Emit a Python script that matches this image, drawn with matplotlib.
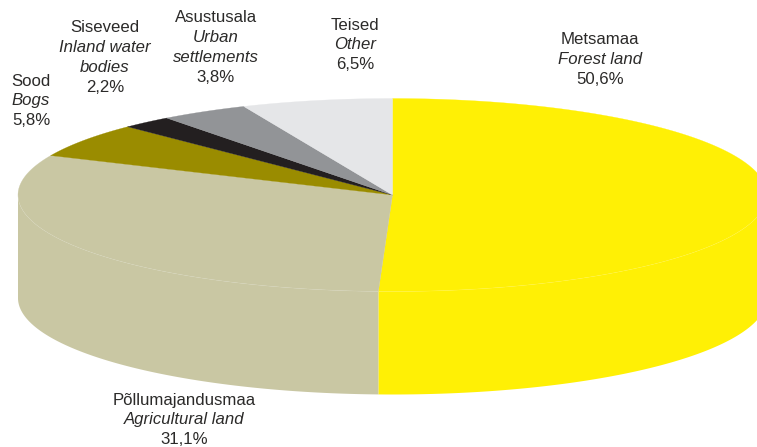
#!/usr/bin/env python3
"""Land use shares drawn as a tilted 3D pie."""

import matplotlib

matplotlib.use("Agg")
import matplotlib.pyplot as plt
import numpy as np

# data, clockwise from 12 o'clock
names = ["Metsamaa", "Põllumajandusmaa", "Sood", "Siseveed", "Asustusala", "Teised"]
names_en = [
    ["Forest land"],
    ["Agricultural land"],
    ["Bogs"],
    ["Inland water", "bodies"],
    ["Urban", "settlements"],
    ["Other"],
]
shares = [50.6, 31.1, 5.8, 2.2, 3.8, 6.5]
colors = ["#fff005", "#c9c7a3", "#9a8c00", "#231f20", "#929497", "#e5e6e8"]

# label centre x and first line centre y, in pixels
label_x = [600, 184, 31, 105, 216, 355]
label_y = [40, 400, 81, 28, 18, 25]
LINE_STEP = 19.9
TEXT_COLOR = "#2b2a29"

CX, CY = 392.5, 195.0
RX, RY = 374.5, 96.5
DEPTH = 103.0


def rim(theta):
    """Rim points of the top ellipse for clockwise angles from 12 o'clock."""
    return CX + RX * np.sin(theta), CY - RY * np.cos(theta)


def main() -> None:
    plt.rcParams["font.family"] = ["Liberation Sans", "DejaVu Sans"]
    fig = plt.figure(figsize=(7.57, 4.47), dpi=100)
    ax = fig.add_axes([0, 0, 1, 1])
    ax.set_xlim(0, 757)
    ax.set_ylim(447, 0)
    ax.axis("off")

    edges = np.cumsum([0] + shares) / sum(shares) * 2 * np.pi

    # side walls: only the front half of the rim shows
    for start, stop, color in zip(edges[:-1], edges[1:], colors):
        lo, hi = max(start, np.pi / 2), min(stop, 3 * np.pi / 2)
        if lo >= hi:
            continue
        x, y = rim(np.linspace(lo, hi, 200))
        ax.fill(
            np.r_[x, x[::-1]],
            np.r_[y, y[::-1] + DEPTH],
            facecolor=color,
            edgecolor="none",
            zorder=1,
        )

    # top faces
    for start, stop, color in zip(edges[:-1], edges[1:], colors):
        x, y = rim(np.linspace(start, stop, 200))
        ax.fill(
            np.r_[CX, x],
            np.r_[CY, y],
            facecolor=color,
            edgecolor=color,
            lw=0.2,
            zorder=2,
        )

    # faint highlight where the top meets the wall
    x, y = rim(np.linspace(np.pi / 2, 3 * np.pi / 2, 400))
    ax.plot(x, y, color="white", lw=0.4, alpha=0.15, zorder=3)

    for i, name in enumerate(names):
        lines = [(name, "normal")]
        lines += [(txt, "italic") for txt in names_en[i]]
        lines += [(f"{shares[i]:.1f}%".replace(".", ","), "normal")]
        for j, (txt, style) in enumerate(lines):
            ax.text(
                label_x[i],
                label_y[i] + j * LINE_STEP,
                txt,
                ha="center",
                va="center",
                fontsize=12.05,
                fontstyle=style,
                color=TEXT_COLOR,
                zorder=4,
            )

    fig.savefig("out.png", dpi=100)
    plt.close(fig)


if __name__ == "__main__":
    main()
